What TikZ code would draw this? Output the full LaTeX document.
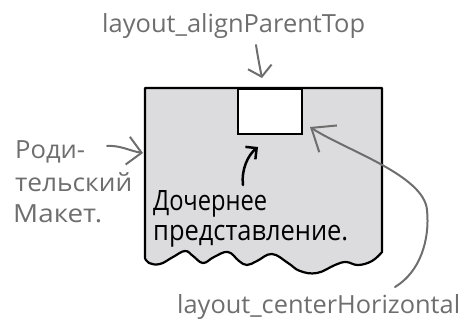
\documentclass[tikz,border=0pt]{standalone}
\usepackage{fontspec}
\setmainfont{Open Sans}
\usetikzlibrary{arrows.meta}
\definecolor{note}{RGB}{110,110,110}
\definecolor{parentfill}{RGB}{220,220,222}
\newcommand{\fitw}[2]{\resizebox{#1}{\height}{#2}}
\begin{document}
\begin{tikzpicture}[x=1pt,y=-1pt,
  lbl/.style={inner sep=0pt, text=note, font=\fontsize{25}{25}\selectfont},
  blk/.style={inner sep=0pt, text=black, font=\fontsize{28}{28}\selectfont},
  garrow/.style={draw=note, line width=2pt, line cap=round, line join=round},
  barrow/.style={draw=black, line width=2.5pt, line cap=round, line join=round},
  parentbox/.style={draw=black, fill=parentfill, line width=2.2pt, line join=round},
  childbox/.style={draw=black, fill=white, line width=2.2pt, inner sep=0pt,
    minimum width=64pt, minimum height=45pt}]
\path[use as bounding box] (0,0) rectangle (465,321);
% parent layout with torn bottom edge
\path[parentbox] (145,258) -- (145,88) -- (382,88) -- (382,252)
  -- plot[smooth, tension=0.7] coordinates {(382,252) (372,261) (358,265)
     (346,262) (335,265) (317,273) (300,271) (288,263) (272,254) (257,261)
     (247,265) (239,261) (228,252) (214,257) (203,263) (193,256) (185,251)
     (173,257) (160,264) (149,263) (145,258)} -- cycle;
% child view
\node[childbox, anchor=north west] (child) at (237,88) {};
% labels
\node[lbl, anchor=base west] (top) at (102,33) {\fitw{263pt}{layout\_alignParentTop}};
\node[lbl, anchor=base west] (bottom) at (177,313) {\fitw{283pt}{layout\_centerHorizontal}};
\node[lbl, anchor=base west] (par1) at (15,158) {\fitw{70pt}{Роди-}};
\node[lbl, anchor=base west] (par2) at (15,191) {\fitw{117pt}{тельский}};
\node[lbl, anchor=base west] (par3) at (13,222) {\fitw{89pt}{Макет.}};
\node[blk, anchor=base west] (ch1) at (153,210) {\fitw{114pt}{Дочернее}};
\node[blk, anchor=base west] (ch2) at (153,240) {\fitw{195pt}{представление.}};
% arrow ends
\coordinate (ts) at (256,45);
\coordinate (te) at (262,78);
\coordinate (ps) at (107,146);
\coordinate (pe) at (143,153);
\coordinate (cs) at (243,185);
\coordinate (ce) at (258,147);
\coordinate (hs) at (395,287);
\coordinate (hm) at (427,210);
\coordinate (he) at (310,127);
% arrows
\draw[garrow, -{Straight Barb[length=10pt,width=24pt]}] (ts) .. controls (258,58) and (260,68) .. (te);
\draw[garrow, -{Straight Barb[length=14pt,width=28pt]}] (ps) .. controls (120,145) and (130,151) .. (pe);
\draw[barrow, -{Straight Barb[length=8pt,width=16pt]}] (cs) .. controls (241,170) and (248,155) .. (ce);
\draw[garrow, -{Straight Barb[length=20pt,width=32pt]}] (hs) .. controls (420,272) and (430,240) .. (hm)
  .. controls (424,175) and (345,150) .. (he);
\end{tikzpicture}
\end{document}
